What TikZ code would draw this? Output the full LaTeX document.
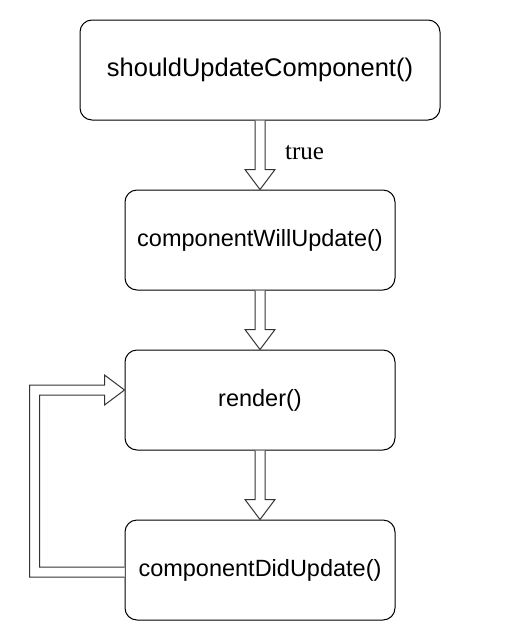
\documentclass[tikz,border=0pt]{standalone}
\usepackage{fontspec}
\setsansfont{Liberation Sans}
\newfontfamily\lblserif{Liberation Serif}
\usetikzlibrary{calc}
\tikzset{
  box/.style={draw=black, line width=1pt, rounded corners=12pt, minimum width=270pt, minimum height=100pt, inner sep=0pt, font=\sffamily\fontsize{23.5}{28}\selectfont},
  hollow/.style={draw=black!80, line width=1pt, fill=white, line join=miter},
  lbl/.style={inner sep=0pt, font=\lblserif\fontsize{25}{30}\selectfont}
}
\begin{document}
\begin{tikzpicture}[x=1pt,y=-1pt]
\useasboundingbox (0,0) rectangle (506,635);
\node[box, minimum width=360pt, font=\sffamily\fontsize{25.5}{30}\selectfont] (b1) at (260,70) {shouldUpdateComponent()};
\node[box] (b2) at (260,240) {componentWillUpdate()};
\node[box] (b3) at (260,400) {render()};
\node[box] (b4) at (260,570) {componentDidUpdate()};
% vertical hollow arrows
\foreach \a/\b in {b1/b2, b2/b3, b3/b4}{
  \draw[hollow] ($(\a.south)+(-5,0)$) -- ($(\b.north)+(-5,-20)$) -- ($(\b.north)+(-15,-20)$) -- (\b.north)
    -- ($(\b.north)+(15,-20)$) -- ($(\b.north)+(5,-20)$) -- ($(\a.south)+(5,0)$);
}
\node[lbl] (t) at (304.5,153) {true};
% loop arrow
\coordinate (s) at ($(b4.west)+(0,2)$);
\coordinate (e) at ($(b3.west)+(0,-10)$);
\coordinate (ob) at ($(s)+(-95,5)$);
\coordinate (ib) at ($(s)+(-85,-5)$);
\coordinate (ot) at ($(e)+(0,-5)$);
\coordinate (it) at ($(e)+(0,5)$);
\draw[hollow] ($(s)+(0,5)$) -- (ob) -- (ob |- ot) -- ($(e)+(-20,-5)$) -- ($(e)+(-20,-15)$) -- (e)
  -- ($(e)+(-20,15)$) -- ($(e)+(-20,5)$) -- (ib |- it) -- (ib) -- ($(s)+(0,-5)$);
\end{tikzpicture}
\end{document}
